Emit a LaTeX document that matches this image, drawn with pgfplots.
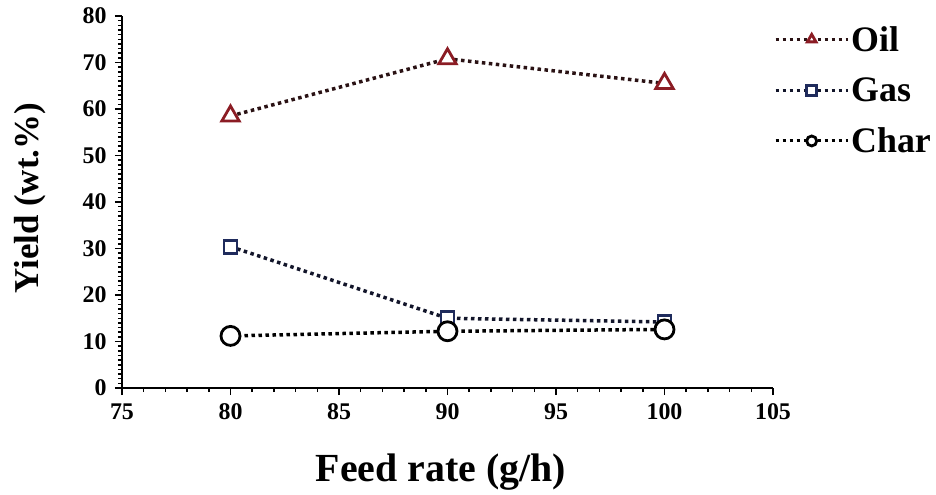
\documentclass[border=0pt]{standalone}
\usepackage{pgfplots}
\pgfplotsset{compat=1.18}
\usepackage{fontspec}
\setmainfont{Liberation Serif}
\definecolor{oilc}{HTML}{8B1C24}
\definecolor{gasc}{HTML}{1F2B5C}
\definecolor{oill}{HTML}{2A1214}
\definecolor{gasl}{HTML}{12152A}
\begin{document}
\begin{tikzpicture}
\begin{axis}[
  at={(0,0)}, anchor=south west,
  scale only axis,
  width=651bp, height=372bp,
  xmin=75, xmax=105, ymin=0, ymax=80,
  axis lines=left,
  axis line style={line width=2.5bp, -},
  xtick={75,80,...,105},
  ytick={0,10,...,80},
  minor x tick num=4,
  minor y tick num=9,
  tick align=outside,
  major tick length=7bp,
  minor tick length=4bp,
  every tick/.style={line width=1.5bp, black},
  ticklabel style={font=\fontsize{24}{26}\selectfont\bfseries},
  xticklabel style={yshift=-5bp},
  yticklabel style={xshift=-5bp},
  /pgf/number format/assume math mode=true,
  xlabel={Feed rate (g/h)},
  ylabel={Yield (wt.\%)},
  xlabel style={font=\fontsize{40}{44}\selectfont\bfseries, at={(axis description cs:0.49,0)}, anchor=base, yshift=-93bp},
  ylabel style={font=\fontsize{35}{38}\selectfont\bfseries, at={(axis description cs:-0.141,0.51)}, anchor=center},
  clip=false,
  legend style={draw=none, fill=none, font=\fontsize{36}{38}\selectfont\bfseries,
    at={(axis description cs:1,1)}, anchor=north west, xshift=1bp, yshift=-8bp,
    row sep=21bp, inner sep=0pt},
  legend cell align=left,
  legend image code/.code={\draw[mark repeat=2,mark phase=2,mark size=5bp,line width=3bp] plot coordinates {(0bp,0bp)(36bp,0bp)(72bp,0bp)};},
]
\addplot[oill, line width=3.5bp, dash pattern=on 3.5bp off 3.5bp, mark=triangle*, mark size=10bp,
  mark options={solid, draw=oilc, fill=white, line width=2.8bp}]
  coordinates {(80,58.5)(90,70.8)(100,65.5)};
\addlegendentry{Oil}
\addplot[gasl, line width=3.5bp, dash pattern=on 3.5bp off 3.5bp, mark=square*, mark size=6.5bp,
  mark options={solid, draw=gasc, fill=white, line width=2.8bp}]
  coordinates {(80,30.4)(90,15.0)(100,14.2)};
\addlegendentry{Gas}
\addplot[black, line width=3.5bp, dash pattern=on 3.5bp off 3.5bp, mark=*, mark size=9.5bp,
  mark options={solid, draw=black, fill=white, line width=2.8bp}]
  coordinates {(80,11.2)(90,12.2)(100,12.6)};
\addlegendentry{Char}
\end{axis}
\pgfresetboundingbox
\useasboundingbox (-122bp,-107bp) rectangle (814bp,388bp);
\end{tikzpicture}
\end{document}
